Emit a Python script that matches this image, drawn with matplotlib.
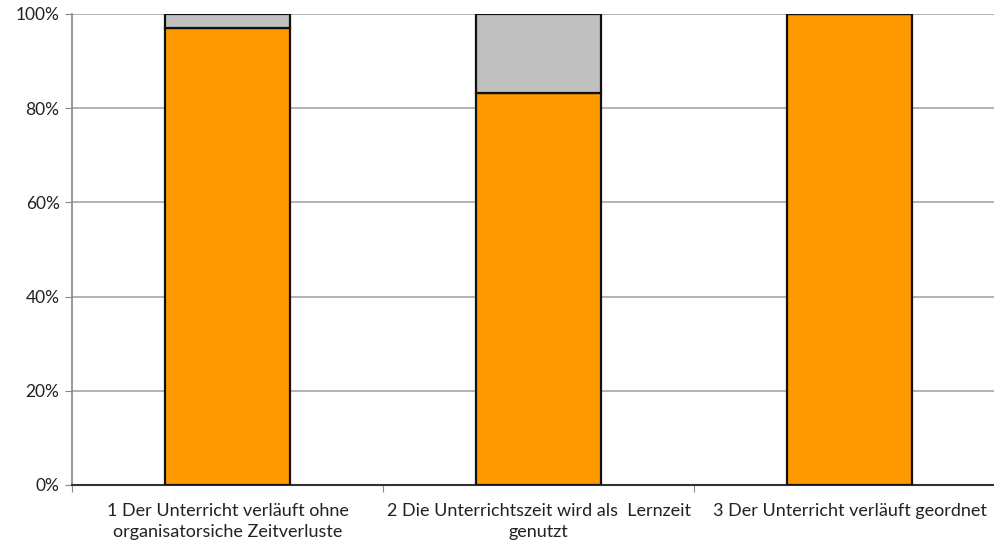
import numpy as np
import matplotlib.pyplot as plt

# Kategorien und Anteile (in %)
categories = [
    "1 Der Unterricht verläuft ohne\norganisatorsiche Zeitverluste",
    "2 Die Unterrichtszeit wird als  Lernzeit\ngenutzt",
    "3 Der Unterricht verläuft geordnet",
]
zustimmung = [97.1, 83.3, 100.0]
ablehnung = [2.9, 16.7, 0.0]
yticks = [0, 20, 40, 60, 80, 100]
ytick_labels = ["0%", "20%", "40%", "60%", "80%", "100%"]

plt.rcParams['font.family'] = ['Lato', 'DejaVu Sans']

fig = plt.figure(figsize=(9.95, 5.48), dpi=100)
ax = fig.add_axes([0.0724, 0.115, 0.9377, 0.8595])

x = np.arange(len(categories))
ax.bar(x, zustimmung, width=0.4, color='#FF9900', edgecolor='#111111', linewidth=1.6, zorder=3)
ax.bar(x, ablehnung, width=0.4, bottom=zustimmung, color='#C0C0C0', edgecolor='#111111',
       linewidth=1.6, zorder=3)

ax.set_xlim(-0.5, 2.5)
ax.set_ylim(0, 100)
ax.set_yticks(yticks)
ax.set_yticklabels(ytick_labels, fontsize=12.5, color='#222222')
ax.yaxis.grid(True, color='#A6A6A6', linewidth=1.2, zorder=0)

# Trennstriche zwischen Kategorien, Beschriftung in der Mitte
ax.set_xticks([-0.5, 0.5, 1.5, 2.5])
ax.set_xticklabels([])
ax.set_xticks(x, minor=True)
ax.set_xticklabels(categories, minor=True, fontsize=13, color='#222222', linespacing=1.35)
ax.tick_params(axis='x', which='major', length=5, color='#888888')
ax.tick_params(axis='x', which='minor', length=0, pad=13)
ax.tick_params(axis='y', length=5, color='#888888', pad=4)

for s in ['top', 'right']:
    ax.spines[s].set_visible(False)
ax.spines['left'].set_color('#888888')
ax.spines['left'].set_linewidth(1.2)
ax.spines['bottom'].set_color('#333333')
ax.spines['bottom'].set_linewidth(1.5)

plt.savefig("out.png", dpi=100)
